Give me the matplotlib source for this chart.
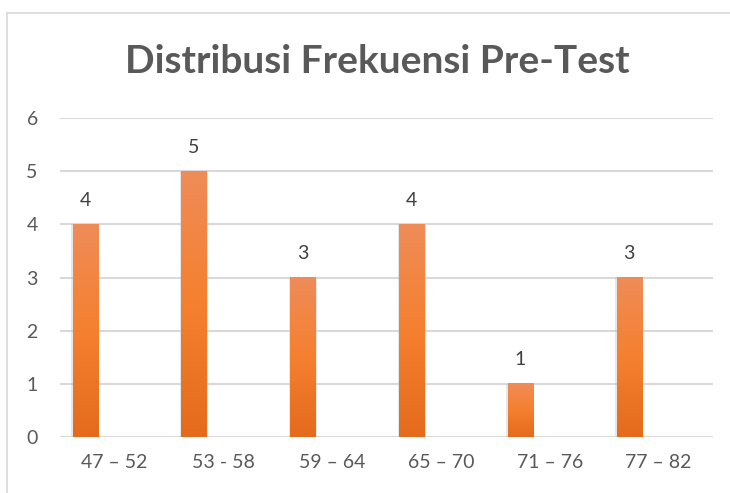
import matplotlib.pyplot as plt
import numpy as np
from matplotlib.lines import Line2D

categories = ["47 – 52", "53 - 58", "59 – 64", "65 – 70", "71 – 76", "77 – 82"]
frequencies = [4, 5, 3, 4, 1, 3]

plt.rcParams['font.family'] = ['Lato', 'DejaVu Sans']

fig = plt.figure(figsize=(7.3, 4.93), dpi=100)
ax = fig.add_axes([0.0822, 0.1136, 0.8945, 0.647])

x = np.arange(len(categories))
offset = -0.27
bars = ax.bar(x + offset, frequencies, width=0.23, color='none', zorder=3)

# gradient fill for each bar
grad = np.linspace(0, 1, 256).reshape(-1, 1)
cmap = plt.matplotlib.colors.LinearSegmentedColormap.from_list(
    'og', ['#e46b1c', '#f5802f', '#ef8c58'])
for b in bars:
    x0, y0 = b.get_x(), b.get_y()
    w, h = b.get_width(), b.get_height()
    # soft shadow
    ax.bar(x0 + w / 2, h, width=w * 1.12, color='#bbbbbb', alpha=0.35, zorder=2)
    ax.imshow(grad, cmap=cmap, origin='lower', aspect='auto',
              extent=(x0, x0 + w, y0, y0 + h), zorder=3)

for xi, v in zip(x, frequencies):
    ax.text(xi + offset, v + 0.45, str(v), ha='center', va='center',
            fontsize=14, color='#404040')

ax.set_xlim(-0.5, len(categories) - 0.5)
ax.set_ylim(0, 6)
ax.set_yticks(range(0, 7))
ax.set_xticks(x)
ax.set_xticklabels(categories)
ax.tick_params(axis='both', length=0, labelsize=14, labelcolor='#595959')
ax.tick_params(axis='y', pad=16)
ax.tick_params(axis='x', pad=12)
ax.grid(axis='y', color='#d9d9d9', linewidth=1.5, zorder=0)
for s in ax.spines.values():
    s.set_visible(False)

fig.text(0.517, 0.875, "Distribusi Frekuensi Pre-Test", ha='center', va='center',
         fontsize=28, fontweight='bold', color='#595959')

# chart border
fig.add_artist(Line2D([0.009, 0.009], [0.0, 0.974], color='#d9d9d9', lw=1.2))
fig.add_artist(Line2D([0.009, 1.0], [0.974, 0.974], color='#d9d9d9', lw=1.2))

fig.savefig('out.png', dpi=100)
